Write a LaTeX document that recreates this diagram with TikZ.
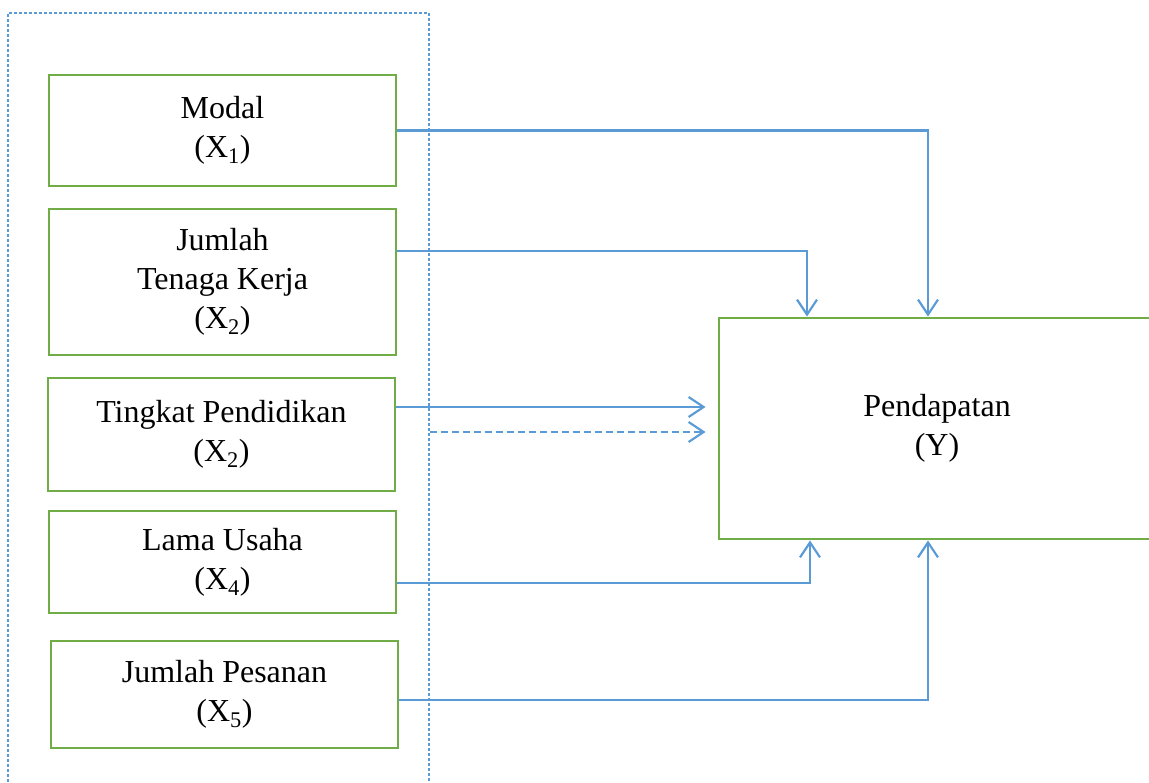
\documentclass[tikz,border=0pt]{standalone}
\usepackage{fontspec}
\setmainfont{Liberation Serif}
\usetikzlibrary{arrows.meta,calc}
\definecolor{boxgreen}{RGB}{112,173,71}
\definecolor{linkblue}{RGB}{91,155,213}

\begin{document}
\begin{tikzpicture}[
    x=1pt,y=-1pt,
    font=\fontsize{32}{39}\selectfont,
    line join=miter,
    varbox/.style={draw=boxgreen,line width=2.8pt,minimum width=347pt,inner sep=0pt,align=center},
    groupframe/.style={draw=linkblue,line width=1.1pt,dash pattern=on 3pt off 2pt,
        minimum width=421pt,minimum height=787pt,inner sep=0pt},
    link/.style={draw=linkblue,line width=2.2pt,-{Straight Barb[length=15pt,width=20pt]}},
    dashlink/.style={link,dash pattern=on 7pt off 4pt},
]

\useasboundingbox (0,0) rectangle (1149,783);

\node[groupframe] (group) at (218.5,406.5) {};

\node[varbox,minimum height=111pt] (modal) at (222.5,130.5) {Modal\\(X\textsubscript{1})};
\node[varbox,minimum height=146pt] (tenaga) at (222.5,282) {Jumlah\\Tenaga Kerja\\(X\textsubscript{2})};
\node[varbox,minimum height=113pt] (didik) at (221.5,434.5) {Tingkat Pendidikan\\(X\textsubscript{2})};
\node[varbox,minimum height=102pt] (lama) at (222.5,562) {Lama Usaha\\(X\textsubscript{4})};
\node[varbox,minimum height=107pt] (pesan) at (224.5,694.5) {Jumlah Pesanan\\(X\textsubscript{5})};

\node[varbox,minimum width=436pt,minimum height=221pt] (income) at (937,428.5) {Pendapatan\\(Y)};

\draw[link] (modal.east) -| ([xshift=-9pt]income.north);
\draw[link] ([yshift=31pt]tenaga.east) -| ([xshift=-130pt]income.north);
\draw[link] ([yshift=27.5pt]didik.east) -- ([xshift=-12pt,yshift=21.5pt]income.west);
\draw[dashlink] ($(group.east |- income.west)+(0,3.5)$) -- ([xshift=-12pt,yshift=-3.5pt]income.west);
\draw[link] ([yshift=-21pt]lama.east) -| ([xshift=-127pt]income.south);
\draw[link] ([yshift=-5.5pt]pesan.east) -| ([xshift=-9pt]income.south);

\end{tikzpicture}
\end{document}
